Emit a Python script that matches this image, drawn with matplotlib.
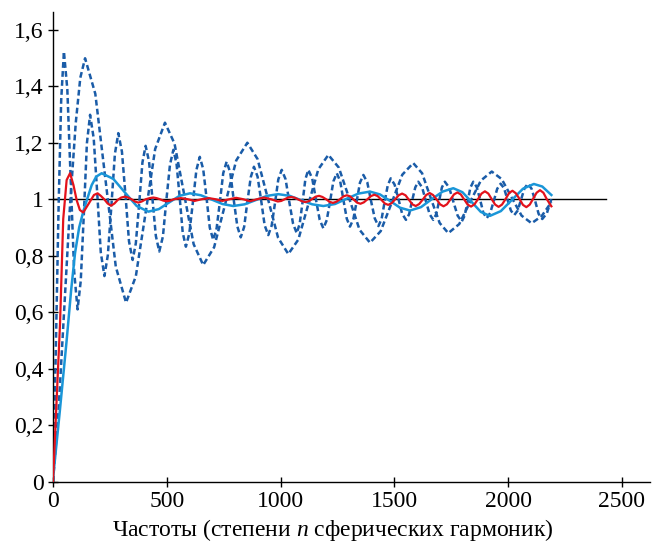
import matplotlib
matplotlib.use("Agg")
import matplotlib.pyplot as plt

plt.rcParams['font.family'] = ['Liberation Serif', 'DejaVu Serif']
plt.rcParams['mathtext.fontset'] = 'custom'
plt.rcParams['mathtext.it'] = 'Liberation Serif:italic'
plt.rcParams['mathtext.rm'] = 'Liberation Serif'

# Dashed curve with short period (~120)
d1_x = [0, 12, 24, 36, 48, 63, 78, 93, 108, 122, 136, 149, 163, 179, 195, 210, 226,
        241, 257, 272, 287, 303, 319, 334, 350, 364, 379, 393, 407, 422, 437, 452, 467,
        483, 498, 514, 529, 543, 557, 570, 584, 599, 615, 630, 645, 660, 675, 689, 704,
        719, 734, 748, 763, 779, 794, 810, 825, 840, 854, 869, 883, 899, 915, 930, 946,
        961, 976, 990, 1005, 1022, 1038, 1055, 1071, 1084, 1097, 1109, 1122, 1139, 1155,
        1172, 1188, 1203, 1218, 1232, 1247, 1262, 1276, 1291, 1305, 1320, 1335, 1349,
        1364, 1381, 1397, 1414, 1430, 1444, 1457, 1471, 1484, 1501, 1518, 1534, 1551,
        1565, 1578, 1592, 1605, 1622, 1638, 1655, 1671, 1684, 1697, 1709, 1722, 1741,
        1759, 1778, 1796, 1809, 1822, 1834, 1847, 1862, 1877, 1891, 1906, 1921, 1937,
        1952, 1967, 1982, 1997, 2012, 2027, 2042, 2057, 2072, 2087, 2103, 2119, 2134,
        2150, 2170, 2190]
d1_y = [0.0, 0.45, 0.95, 1.35, 1.523, 1.389, 1.067, 0.744, 0.610, 0.711, 0.955, 1.198,
        1.299, 1.215, 1.014, 0.812, 0.728, 0.802, 0.981, 1.160, 1.234, 1.168, 1.010,
        0.851, 0.785, 0.844, 0.987, 1.130, 1.189, 1.134, 1.002, 0.870, 0.815, 0.868,
        0.995, 1.122, 1.175, 1.125, 1.004, 0.882, 0.832, 0.879, 0.991, 1.103, 1.150,
        1.107, 1.003, 0.899, 0.856, 0.897, 0.995, 1.092, 1.133, 1.094, 0.999, 0.904,
        0.865, 0.902, 0.990, 1.078, 1.115, 1.080, 0.994, 0.908, 0.873, 0.907, 0.989,
        1.070, 1.104, 1.071, 0.992, 0.913, 0.880, 0.913, 0.992, 1.071, 1.104, 1.074,
        1.001, 0.927, 0.897, 0.926, 0.995, 1.063, 1.092, 1.064, 0.998, 0.931, 0.903,
        0.930, 0.995, 1.059, 1.086, 1.060, 0.996, 0.932, 0.905, 0.930, 0.990, 1.049,
        1.074, 1.052, 1.001, 0.949, 0.927, 0.947, 0.995, 1.042, 1.062, 1.042, 0.995,
        0.947, 0.927, 0.947, 0.995, 1.042, 1.062, 1.041, 0.992, 0.942, 0.921, 0.942,
        0.992, 1.041, 1.062, 1.043, 0.998, 0.952, 0.933, 0.951, 0.994, 1.037, 1.055,
        1.039, 1.000, 0.960, 0.944, 0.960, 1.000, 1.039, 1.055, 1.037, 0.993, 0.948,
        0.930, 0.950, 1.000]

# Dashed curve with long period (~360)
d2_x = [0, 25, 50, 75, 100, 120, 141, 186, 231, 276, 321, 364, 407, 449, 492, 534, 576,
        618, 660, 708, 757, 805, 854, 899, 944, 989, 1034, 1078, 1122, 1166, 1210, 1256,
        1302, 1347, 1393, 1440, 1488, 1535, 1583, 1622, 1660, 1699, 1737, 1785, 1832,
        1880, 1928, 1972, 2015, 2059, 2103, 2147, 2190]
d2_y = [0.0, 0.26, 0.62, 0.98, 1.27, 1.43, 1.499, 1.373, 1.067, 0.761, 0.634, 0.727,
        0.952, 1.178, 1.271, 1.197, 1.019, 0.841, 0.767, 0.830, 0.984, 1.137, 1.200,
        1.142, 1.003, 0.864, 0.806, 0.857, 0.982, 1.106, 1.157, 1.112, 1.002, 0.892,
        0.846, 0.887, 0.987, 1.087, 1.128, 1.092, 1.004, 0.916, 0.880, 0.912, 0.989,
        1.066, 1.098, 1.071, 1.007, 0.942, 0.915, 0.940, 0.990]

# Light blue solid curve
lb_x = [0, 30, 60, 80, 97, 115, 133, 150, 170, 190, 214, 265, 316, 368, 419, 465, 511,
        556, 602, 650, 697, 745, 792, 842, 891, 941, 990, 1040, 1089, 1139, 1188, 1239,
        1291, 1342, 1393, 1437, 1481, 1525, 1569, 1617, 1664, 1712, 1759, 1799, 1840,
        1880, 1920, 1968, 2017, 2065, 2113, 2150, 2190]
lb_y = [0.01, 0.25, 0.50, 0.68, 0.81, 0.90, 0.956, 1.00, 1.05, 1.08, 1.092, 1.072,
        1.024, 0.976, 0.956, 0.965, 0.989, 1.012, 1.021, 1.014, 0.999, 0.983, 0.976,
        0.982, 0.997, 1.012, 1.018, 1.012, 0.997, 0.982, 0.976, 0.983, 1.002, 1.020,
        1.027, 1.017, 0.994, 0.970, 0.960, 0.972, 1.000, 1.027, 1.039, 1.025, 0.990,
        0.955, 0.941, 0.958, 0.998, 1.037, 1.054, 1.045, 1.015]

# Red solid curve
red_x = [0, 15, 31, 45, 60, 75, 90, 104, 118, 133, 150, 165, 180, 196, 210, 225, 240,
         255, 270, 285, 300, 316, 330, 345, 360, 375, 390, 408, 425, 441, 455, 470, 485,
         500, 515, 531, 562, 592, 622, 653, 684, 714, 744, 775, 805, 836, 866, 897, 927,
         958, 988, 1003, 1018, 1033, 1048, 1063, 1079, 1094, 1109, 1124, 1139, 1154,
         1169, 1184, 1200, 1215, 1230, 1245, 1261, 1276, 1291, 1306, 1321, 1336, 1351,
         1366, 1382, 1397, 1412, 1427, 1443, 1458, 1473, 1488, 1504, 1519, 1534, 1549,
         1564, 1579, 1594, 1609, 1625, 1640, 1655, 1670, 1686, 1701, 1716, 1731, 1747,
         1762, 1777, 1792, 1807, 1822, 1837, 1852, 1868, 1883, 1898, 1913, 1928, 1943,
         1958, 1973, 1989, 2004, 2019, 2034, 2050, 2065, 2080, 2095, 2110, 2125, 2140,
         2155, 2170, 2190]
red_y = [0.0, 0.27, 0.56, 0.93, 1.068, 1.092, 1.05, 0.997, 0.962, 0.953, 0.975, 0.995,
         1.015, 1.021, 1.012, 1.0, 0.985, 0.977, 0.985, 0.998, 1.006, 1.009, 1.006, 1.0,
         0.992, 0.988, 0.992, 1.0, 1.004, 1.006, 1.004, 1.0, 0.995, 0.993, 0.995, 1.0,
         1.004, 1.0, 0.994, 1.0, 1.004, 1.0, 0.994, 1.0, 1.005, 1.0, 0.993, 1.0, 1.006,
         1.0, 0.992, 0.994, 1.0, 1.006, 1.008, 1.005, 0.999, 0.993, 0.990, 0.993, 1.001,
         1.009, 1.012, 1.008, 1.0, 0.991, 0.987, 0.991, 1.0, 1.010, 1.014, 1.010, 0.999,
         0.988, 0.984, 0.989, 1.0, 1.011, 1.016, 1.011, 0.998, 0.985, 0.980, 0.986, 1.0,
         1.014, 1.020, 1.014, 0.998, 0.982, 0.976, 0.983, 0.999, 1.015, 1.022, 1.015,
         0.999, 0.982, 0.975, 0.982, 1.0, 1.017, 1.024, 1.017, 0.999, 0.981, 0.974,
         0.982, 1.001, 1.020, 1.028, 1.020, 1.0, 0.981, 0.973, 0.981, 1.001, 1.022,
         1.030, 1.021, 1.001, 0.980, 0.972, 0.981, 1.002, 1.023, 1.032, 1.023, 1.0,
         0.975]

ref_x = [0, 2430]
ref_y = [1, 1]

x_ticks = [0, 500, 1000, 1500, 2000, 2500]
y_ticks = [0, 0.2, 0.4, 0.6, 0.8, 1.0, 1.2, 1.4, 1.6]
y_labels = ['0', '0,2', '0,4', '0,6', '0,8', '1', '1,2', '1,4', '1,6']

fig = plt.figure(figsize=(6.64, 5.43), dpi=100)
ax = fig.add_axes([0.0798, 0.1129, 0.899, 0.8656])

ax.plot(ref_x, ref_y, color='black', lw=1.0, zorder=1)
ax.plot(d2_x, d2_y, color='#1a5ca8', lw=1.8, linestyle=(0, (2.3, 1.3)), zorder=2)
ax.plot(d1_x, d1_y, color='#1a5ca8', lw=1.8, linestyle=(0, (2.3, 1.3)), zorder=2)
ax.plot(lb_x, lb_y, color='#1a96d8', lw=1.8, zorder=3)
ax.plot(red_x, red_y, color='#e3121b', lw=1.6, zorder=4)

ax.set_xlim(0, 2623)
ax.set_ylim(0, 1.664)
ax.set_xticks(x_ticks)
ax.set_yticks(y_ticks)
ax.set_yticklabels(y_labels)
ax.tick_params(direction='inout', length=7.5, width=1.0, labelsize=17, pad=3)

for side in ['top', 'right']:
    ax.spines[side].set_visible(False)
for side in ['left', 'bottom']:
    ax.spines[side].set_linewidth(1.0)

ax.set_xlabel('Частоты (степени $n$ сферических гармоник)', fontsize=17)
ax.xaxis.set_label_coords(0.469, -0.075)

fig.savefig('out.png', dpi=100)
